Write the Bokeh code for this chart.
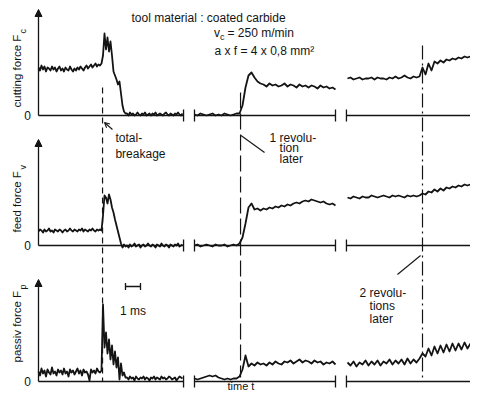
import numpy as np
from bokeh.plotting import figure
from bokeh.models import Range1d, Arrow, NormalHead, OpenHead
from bokeh.core.properties import value
from bokeh.embed import file_html
from bokeh.resources import INLINE

# ---------------- data ----------------
panel_labels = ["cutting force  F", "feed force  F", "passiv force  F"]
panel_subs = ["c", "v", "p"]

# time-axis segments (ms) of the broken time axis
seg_start = [0.0, 10.4, 20.53]
seg_end = [9.67, 19.8, 29.27]

# sampling of the recorded traces (start in ms, step in ms) per segment
trace_t0 = [0.0, 10.4, 20.6]
trace_dt = [0.1, 0.2, 0.2]

# cutting force Fc (a.u.), segment 1 / 2 / 3
fc_s1 = [48, 45, 50, 46, 49, 44, 48, 47, 45, 49, 46, 48, 44, 47, 49, 45, 47, 44, 48, 46,
         45, 49, 46, 44, 47, 45, 48, 46, 49, 47, 45, 48, 50, 47, 49, 51, 48, 50, 52, 49,
         51, 50, 52,
         60, 82, 66, 78, 64, 74, 60, 44, 40, 36, 31, 34, 22, 10, 4, 2,
         2, 0, 3, 1, 2, 0, 1, 3, 1, 0, 2, 1, 3, 0, 1, 2, 0, 2, 1, 3,
         0, 1, 2, 1, 0, 2, 3, 1, 0, 2, 1, 0, 2, 1, 3, 1, 0, 2]
fc_s2 = [1, 0, 2, 1, 0, 1, 2, 0, 1, 0, 2, 1, 0, 1, 2,
         2, 10, 28, 40, 43, 38, 34, 32,
         31, 29, 32, 30, 31, 29, 30, 32, 29, 31, 30, 28, 31, 29, 30, 28, 30, 29, 27, 30,
         28, 29, 27, 28, 26]
fc_s3 = [37, 38, 36, 37, 38, 36, 37, 37, 38, 36, 38, 37, 37, 36, 38, 37, 39, 37, 38, 40,
         38, 37, 39, 38, 39,
         48, 41, 52, 45, 54, 52, 55, 53, 56, 55, 57, 56, 58, 57, 59, 58, 59]

# feed force Fv (a.u.)
fv_s1 = [14, 16, 15, 13, 16, 14, 15, 17, 14, 15, 13, 16, 15, 14, 16, 15, 13, 15, 16, 14,
         15, 17, 15, 14, 16, 15, 14, 16, 15, 17, 14, 16, 15, 14, 16, 15, 17, 15, 14, 16,
         15, 16, 15,
         30, 50, 48, 42, 51, 46, 38, 33, 26, 20, 14, 8, 2, -2, 1, -1,
         0, -2, 1, -1, 0, 2, -1, 0, 1, -2, 0, 1, -1, 0, 2, 0, -1, 1, 0, -2,
         1, 0, -1, 2, 0, -1, 1, 0, -2, 1, 0, -1, 1, 0, 2, -1, 0, 1]
fv_s2 = [0, 1, -1, 0, 1, 0, -1, 1, 0, 0, 1, -1, 0, 1, 0,
         2, 8, 22, 38, 42, 36, 37, 35,
         37, 36, 38, 37, 39, 38, 40, 39, 41, 40, 42, 43, 42, 44, 45, 44, 46, 45, 44, 43,
         44, 42, 41, 42, 40]
fv_s3 = [48, 47, 49, 48, 47, 49, 48, 48, 50, 49, 48, 49, 50, 49, 48, 50, 49, 50, 49, 48,
         50, 49, 50, 49, 50,
         52, 51, 54, 53, 56, 54, 57, 55, 58, 57, 59, 58, 60, 59, 61, 60, 61]

# passive force Fp (a.u.)
fp_s1 = [10, 6, 13, 8, 11, 5, 12, 9, 7, 14, 8, 10, 6, 12, 9, 11, 7, 13, 8, 10,
         5, 12, 9, 11, 7, 10, 13, 8, 11, 6, 12, 9, 10, 7, 1, 12, 9, 11, 8, 13,
         10, 9, 11,
         77, 34, 49, 28, 42, 22, 36, 17, 30, 14, 24, 2, 18, 6, 9, 4,
         4, 2, 5, 3, 4, 1, 5, 3, 2, 4, 3, 5, 2, 4, 3, 1, 4, 3, 5, 2,
         4, 3, 2, 5, 3, 4, 2, 3, 5, 4, 2, 3, 4, 1, 3, 5, 4, 3]
fp_s2 = [3, 2, 3, 4, 5, 6, 5, 6, 4, 3, 2, 3, 2, 3, 3,
         5, 12, 26, 15, 18, 16, 19, 17,
         18, 16, 19, 17, 20, 18, 17, 20, 19, 21, 18, 20, 22, 19, 21, 20, 18, 21, 19, 20,
         17, 19, 18, 20, 17]
fp_s3 = [19, 16, 20, 15, 19, 17, 21, 16, 20, 17, 21, 16, 20, 18, 22, 17, 21, 18, 22, 17,
         23, 18, 22, 19, 23,
         28, 25, 33, 26, 35, 28, 36, 29, 37, 30, 38, 31, 38, 32, 39, 33, 38]

traces = [[fc_s1, fc_s2, fc_s3], [fv_s1, fv_s2, fv_s3], [fp_s1, fp_s2, fp_s3]]

# events (ms): total breakage, 1 revolution later, 2 revolutions later
event_t = [4.27, 13.47, 25.6]
scale_bar_ms = [5.8, 6.8]

# ---------------- layout ----------------
panel_base = [277, 147, 11]       # zero line of each panel in the stacked display
axis_len = [106, 106, 102]
FONT = value("Liberation Sans")
INK = "#141414"

p = figure(width=470, height=392, x_range=Range1d(-2.533, 28.8), y_range=Range1d(0, 392),
           x_axis_type=None, y_axis_type=None, output_backend="svg",
           toolbar_location=None, min_border=0)
p.grid.visible = False
p.outline_line_color = None

for k in range(3):
    b = panel_base[k]
    # force axis with arrow
    p.add_layout(Arrow(end=NormalHead(size=7, fill_color=INK, line_color=INK),
                       x_start=0, y_start=b, x_end=0, y_end=b + axis_len[k],
                       line_color=INK, line_width=1.3))
    # broken time axis
    p.segment(x0=seg_start, y0=[b] * 3, x1=seg_end, y1=[b] * 3, line_color=INK, line_width=1.3)
    bars = [seg_end[0], seg_start[1], seg_end[1], seg_start[2]]
    p.segment(x0=bars, y0=[b - 6] * 4, x1=bars, y1=[b + 6] * 4, line_color=INK, line_width=1.3)
    # traces
    for s in range(3):
        vals = np.array(traces[k][s], dtype=float)
        t = trace_t0[s] + trace_dt[s] * np.arange(len(vals))
        p.line(t, b + vals, line_color=INK, line_width=1.8, line_join="round")
    # zero label
    p.text(x=[-0.73], y=[b], text=["0"], text_font=FONT, text_font_size="12px",
           text_align="center", text_baseline="middle", text_color=INK)

# rotated axis labels with subscripts
p.text(x=[-1.4] * 3, y=[285, 160, 30], text=panel_labels, angle=np.pi / 2,
       text_font=FONT, text_font_size="11.5px", text_align="left",
       text_baseline="alphabetic", text_color=INK)
p.text(x=[-1.0] * 3, y=[359, 223, 103], text=panel_subs, angle=np.pi / 2,
       text_font=FONT, text_font_size="9px", text_align="left",
       text_baseline="alphabetic", text_color=INK)

# event lines
p.segment(x0=[event_t[0]], y0=[305], x1=[event_t[0]], y1=[11], line_color=INK,
          line_width=1.2, line_dash="6 4")
p.segment(x0=[event_t[1]], y0=[300], x1=[event_t[1]], y1=[15], line_color=INK,
          line_width=1.2, line_dash="16 5")
p.segment(x0=[event_t[2]], y0=[347], x1=[event_t[2]], y1=[12], line_color=INK,
          line_width=1.2, line_dash="14 4 2 4")

# annotation leaders
p.add_layout(Arrow(end=OpenHead(size=5, line_color=INK, line_width=1.1),
                   x_start=4.93, y_start=263, x_end=4.4, y_end=270,
                   line_color=INK, line_width=1.1))
p.segment(x0=[13.5, 23.93], y0=[257, 118], x1=[15.07, 25.47], y1=[240, 137],
          line_color=INK, line_width=1.1)

# scale bar 1 ms
p.segment(x0=[scale_bar_ms[0]], y0=[106], x1=[scale_bar_ms[1]], y1=[106], line_color=INK, line_width=1.3)
p.segment(x0=scale_bar_ms, y0=[102.5, 102.5], x1=scale_bar_ms, y1=[109.5, 109.5],
          line_color=INK, line_width=1.3)

# texts
txt = dict(text_font=FONT, text_font_size="12px", text_align="left",
           text_baseline="alphabetic", text_color=INK)
p.text(x=[6.2], y=[375], text=["tool material : coated carbide"], **txt)
p.text(x=[11.7], y=[360], text=["v"], **txt)
p.text(x=[12.1], y=[356], text=["c"], text_font=FONT, text_font_size="9px",
       text_align="left", text_baseline="alphabetic", text_color=INK)
p.text(x=[12.6], y=[360], text=["= 250 m/min"], **txt)
p.text(x=[11.73], y=[342], text=["a x f = 4 x 0,8 mm²"], **txt)
p.text(x=[5.13, 5.13], y=[255, 239], text=["total-", "breakage"], **txt)
p.text(x=[15.4, 16.07, 16.07], y=[255, 245, 234], text=["1 revolu-", "tion", "later"], **txt)
p.text(x=[21.4, 22.07, 22.07], y=[100, 87, 74], text=["2 revolu-", "tions", "later"], **txt)
p.text(x=[6.3], y=[82], text=["1 ms"], text_font=FONT, text_font_size="12px",
       text_align="center", text_baseline="alphabetic", text_color=INK)
p.text(x=[12.6], y=[0.5], text=["time  t"], text_font=FONT, text_font_size="11px",
       text_align="left", text_baseline="bottom", text_color=INK)

open("out.html", "w").write(file_html(p, INLINE))
